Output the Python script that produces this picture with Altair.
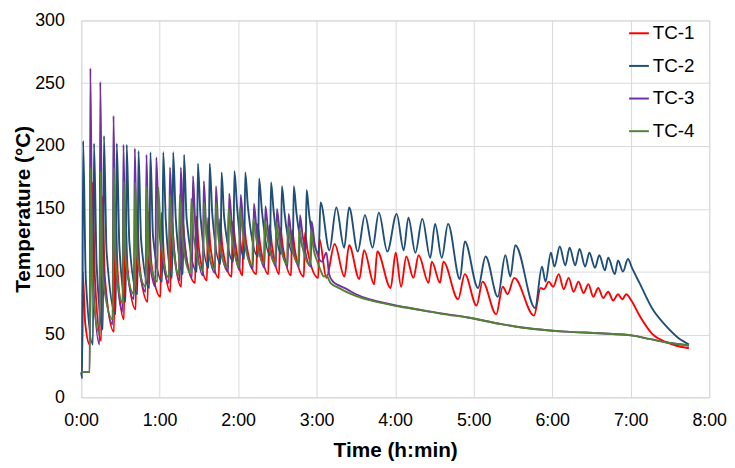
import altair as alt
import pandas as pd

series_names = ["TC-1", "TC-2", "TC-3", "TC-4"]
series_colors = ["#ff0000", "#1f4e79", "#7030a0", "#548235"]
x_labels = ["0:00", "1:00", "2:00", "3:00", "4:00", "5:00", "6:00", "7:00", "8:00"]
y_ticks = [0, 50, 100, 150, 200, 250, 300]

# time in minutes, temperature in °C
tc1_time = [0, 0.6, 1.2, 3.0, 6.5,
            8.5, 10.5, 15.3, 16.1, 18.1, 25.1, 25.9, 27.9, 32.7, 33.5, 35.5, 41.7,
            42.5, 44.5, 50.8, 51.6, 53.6, 60.6, 61.4, 63.4, 68.2, 69.0, 71.0, 76.5,
            77.3, 79.3, 87.1, 87.9, 89.9, 96.1, 96.9, 98.9, 105.2, 106.0, 108.0, 115.0,
            115.8, 117.8, 123.3, 124.1, 126.1, 133.9, 134.7, 136.7, 143.0, 143.8, 145.8, 151.3,
            152.1, 154.1, 160.4, 161.2, 163.2, 170.2, 171.0, 173.0, 181.2,
            182.0, 187.4, 193.7, 201.2, 204.8, 212.6, 216.2, 223.9, 226.3, 236.5, 240.4, 244.5,
            248.5, 253.9, 257.9, 265.5, 268.0, 274.3, 276.8, 288.1, 293.2, 302.2, 306.8, 317.2,
            322.2, 325.9, 331.0, 346.1, 351.2, 353.7, 357.4, 360.7, 365.0, 368.8, 372.6, 376.3,
            380.1, 383.9, 387.7, 391.4, 395.2, 399.0, 402.8, 406.6, 410.3, 413.6, 416.6, 420.5,
            426.7, 436.8, 446.8, 455.0, 464.5]
tc1_temp = [20, 20, 100, 60, 42,
            171, 95, 45, 160, 95, 52, 155, 99, 62, 150, 102, 70,
            150, 106, 76, 148, 107, 80, 147, 109, 84, 146, 117, 88,
            145, 118, 91, 144, 119, 93, 143, 119, 95, 142, 119, 96,
            140, 123, 97, 139, 123, 98, 138, 122, 98, 137, 121, 98,
            135, 120, 97, 133, 118, 96, 131, 117, 95,
            126, 95, 122, 96, 121, 94, 117, 90, 116, 87, 115, 88,
            112, 95, 113, 91, 108, 91, 108, 78, 98, 73, 92, 66,
            88, 82, 95, 65, 87, 86, 92, 88, 98, 86, 95, 84,
            92, 83, 90, 80, 87, 79, 84, 77, 82, 78, 82, 77,
            65, 50, 44, 41, 39]

tc2_time = [0, 0.8, 1.5, 3.5, 9.0,
            9.8, 11.8, 16.6, 17.4, 19.4, 26.4, 27.2, 29.2, 34.0, 34.8, 36.8, 43.0,
            43.8, 45.8, 52.1, 52.9, 54.9, 61.9, 62.7, 64.7, 69.5, 70.3, 72.3, 77.8,
            78.6, 80.6, 88.4, 89.2, 91.2, 97.4, 98.2, 100.2, 106.5, 107.3, 109.3, 116.3,
            117.1, 119.1, 124.6, 125.4, 127.4, 135.2, 136.0, 138.0, 144.3, 145.1, 147.1, 152.6,
            153.4, 155.4, 161.7, 162.5, 164.5, 171.5, 172.3, 174.3, 181.5,
            182.9, 189.7, 195.0, 201.0, 204.8, 211.4, 216.9, 222.7, 227.5, 234.0, 241.1, 246.5,
            250.1, 255.4, 260.7, 266.8, 270.5, 275.6, 280.4, 289.4, 293.2, 303.3, 309.1, 318.4,
            324.2, 328.0, 331.8, 346.9, 352.2, 354.9, 359.0, 361.7, 365.8, 370.0, 373.3, 377.6,
            380.9, 385.2, 388.4, 392.7, 396.0, 400.3, 402.8, 407.9, 410.3, 414.1, 417.9, 421.0,
            426.7, 436.8, 446.8, 455.5, 464.5]
tc2_temp = [20, 15, 204, 95, 42,
            202, 106, 54, 208, 116, 66, 202, 120, 76, 201, 124, 82,
            196, 125, 87, 195, 128, 92, 195, 140, 95, 195, 142, 98,
            193, 142, 100, 186, 144, 103, 186, 146, 106, 179, 143, 108,
            180, 152, 110, 179, 152, 112, 174, 150, 113, 171, 148, 114,
            168, 147, 115, 168, 147, 116, 165, 145, 115,
            155, 117, 151, 119, 151, 116, 145, 119, 147, 116, 146, 117,
            143, 115, 142, 111, 138, 111, 138, 94, 124, 87, 112, 80,
            113, 96, 121, 71, 104, 92, 115, 104, 120, 105, 119, 105,
            118, 104, 115, 103, 113, 101, 111, 98, 109, 100, 110, 103,
            91, 70, 57, 48, 42]

tc3_time = [0, 6.5, 7.0, 8.5, 14.0,
            14.6, 16.1, 24.0, 24.7, 26.2, 31.6, 32.3, 33.8, 40.3, 41.0, 42.5, 49.2,
            49.9, 51.4, 56.7, 57.4, 59.4, 67.1, 67.8, 69.8, 75.4, 76.1, 78.1, 84.7,
            85.4, 87.4, 93.0, 93.7, 95.7, 102.3, 103.0, 105.0, 112.4, 113.1, 115.1, 121.2,
            121.9, 123.9, 131.3, 132.0, 134.0, 140.1, 140.8, 142.8, 148.9, 149.6, 151.6, 157.8,
            158.5, 160.5, 166.5, 167.2, 169.2, 175.4,
            176.1, 178.5, 184.0, 187.4, 189.5, 192.5, 197.0, 203.0, 210.2, 220.0, 227.5, 247.9,
            270.5, 295.5, 321.0, 346.1, 371.0, 396.5, 421.7, 434.3, 446.6, 464.5]
tc3_temp = [20, 20, 262, 108, 42,
            251, 116, 58, 224, 115, 68, 201, 115, 78, 198, 118, 84,
            193, 120, 88, 191, 136, 91, 183, 134, 93, 183, 135, 95,
            176, 133, 97, 172, 132, 99, 168, 131, 100, 162, 138, 101,
            161, 137, 102, 154, 134, 103, 152, 133, 104, 150, 132, 104,
            146, 129, 104, 145, 129, 104,
            140, 122, 108, 115, 98, 92, 89, 86, 82, 78, 76, 71.6,
            67.5, 63.5, 58.2, 54.3, 52.2, 50.9, 49, 46.4, 43.8, 41.2]

tc4_time = [0, 6.6, 7.1, 8.6, 14.1,
            14.8, 16.3, 24.2, 24.9, 26.4, 31.8, 32.5, 34.0, 40.5, 41.2, 42.7, 49.4,
            50.1, 51.6, 58.2, 58.9, 60.9, 67.1, 67.8, 69.8, 74.6, 75.3, 77.3, 83.4,
            84.1, 86.1, 93.2, 93.9, 95.9, 102.3, 103.0, 105.0, 111.8, 112.5, 114.5, 120.6,
            121.3, 123.3, 130.8, 131.5, 133.5, 139.6, 140.3, 142.3, 148.4, 149.1, 151.1, 157.3,
            158.0, 160.0, 166.0, 166.7, 168.7, 174.9,
            175.6, 177.6, 180.5, 183.0, 185.5, 187.4, 190.5, 196.0, 210.2, 227.5, 247.9, 270.5,
            278.1, 295.5, 321.0, 346.1, 371.0, 396.5, 421.7, 434.3, 446.6, 464.5]
tc4_temp = [20, 20, 183, 90, 50,
            180, 97, 62, 183, 107, 75, 172, 109, 82, 171, 113, 88,
            168, 115, 92, 167, 127, 95, 161, 126, 97, 161, 127, 99,
            158, 127, 101, 155, 126, 102, 155, 126, 103, 150, 132, 104,
            151, 133, 105, 142, 128, 106, 141, 127, 106, 139, 126, 106,
            136, 124, 106, 134, 122, 105,
            133, 118, 108, 101, 96, 97, 91, 87.5, 80.5, 75.5, 71.4, 67.4,
            66, 63.5, 58.2, 54.3, 52.2, 50.9, 49, 46.4, 43.8, 41.2]

frames = []
for name, t, v in [("TC-1", tc1_time, tc1_temp), ("TC-2", tc2_time, tc2_temp),
                   ("TC-3", tc3_time, tc3_temp), ("TC-4", tc4_time, tc4_temp)]:
    frames.append(pd.DataFrame({"series": name, "time": t, "temp": v}))
df = pd.concat(frames, ignore_index=True)

FONT = "Liberation Sans"
label_expr = f"{x_labels}[round(datum.value/60)]"

chart = alt.Chart(df).mark_line(strokeWidth=1.9, interpolate="monotone").encode(
    x=alt.X("time:Q",
            scale=alt.Scale(domain=[0, 480], nice=False),
            axis=alt.Axis(values=[i * 60 for i in range(len(x_labels))], labelExpr=label_expr,
                          labelFlush=False, labelOverlap=False,
                          title="Time (h:min)", labelPadding=15, titlePadding=10,
                          titleFontSize=21)),
    y=alt.Y("temp:Q",
            scale=alt.Scale(domain=[0, 300], nice=False),
            axis=alt.Axis(values=y_ticks, title="Temperature (°C)", labelPadding=17,
                          labelFlush=False, titlePadding=1, titleFontSize=21)),
    color=alt.Color("series:N",
                    scale=alt.Scale(domain=series_names, range=series_colors),
                    legend=alt.Legend(orient="none", legendX=553, legendY=2, title=None,
                                      symbolType="stroke", symbolSize=400,
                                      symbolStrokeWidth=2, labelFontSize=19,
                                      labelFont=FONT, rowPadding=12, labelOffset=3)),
).properties(
    width=635, height=381,
    autosize=alt.AutoSizeParams(type="none"),
    padding={"left": 74, "top": 10, "right": 18, "bottom": 68},
).configure_axis(
    grid=True, gridColor="#d9d9d9", gridWidth=1,
    domainColor="#d9d9d9", domainWidth=1, ticks=False,
    labelFont=FONT, labelFontSize=18, labelColor="#000000",
    titleFont=FONT, titleFontWeight="bold", titleColor="#000000",
).configure_view(stroke="#d9d9d9")

chart.save("out.html", embed_options={"renderer": "svg", "actions": False})
